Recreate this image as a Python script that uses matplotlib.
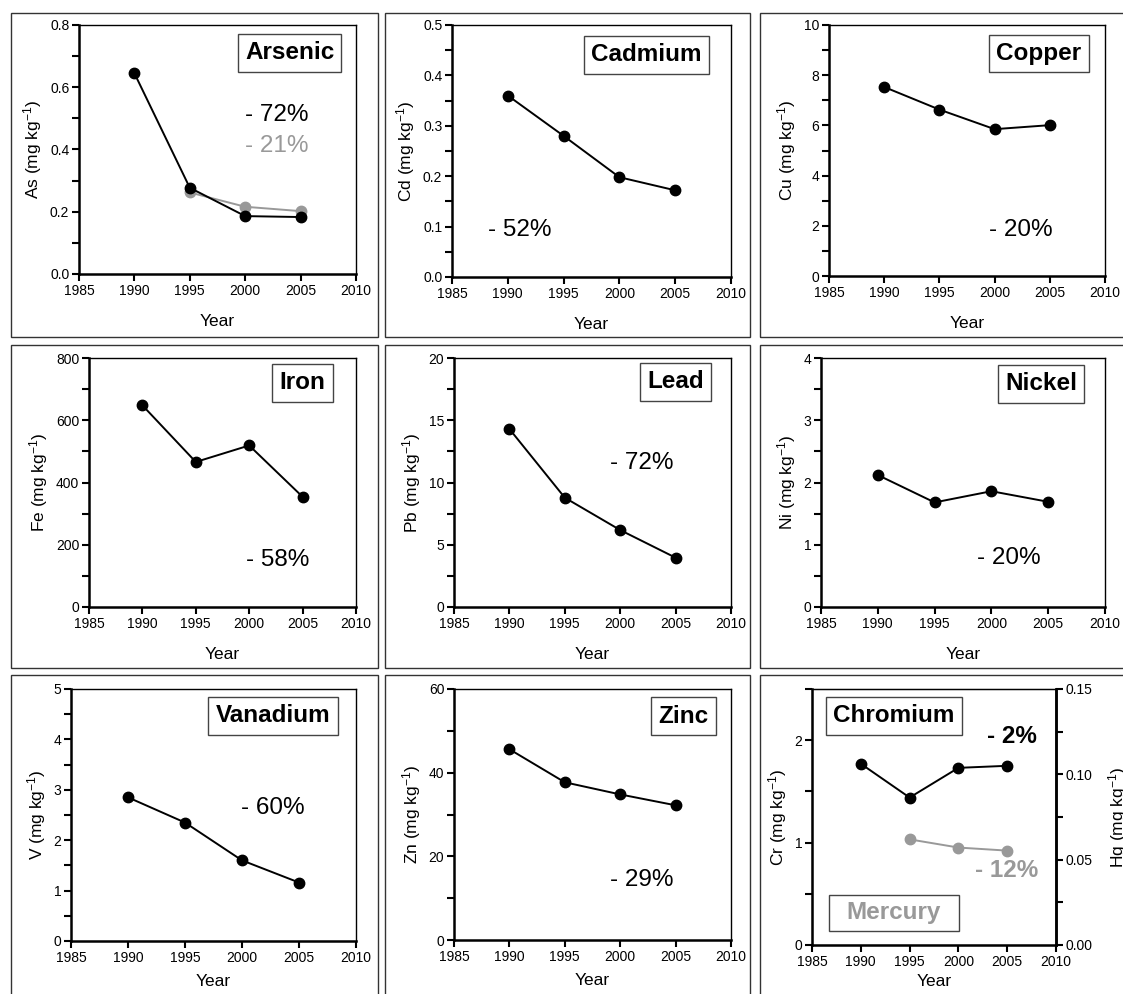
import matplotlib
matplotlib.use('Agg')
import matplotlib.pyplot as plt
from matplotlib.patches import Rectangle
from matplotlib.ticker import MultipleLocator, FormatStrFormatter

plt.rcParams['font.family'] = ['Liberation Sans', 'DejaVu Sans']
plt.rcParams['mathtext.fontset'] = 'custom'
plt.rcParams['mathtext.rm'] = 'Liberation Sans'
plt.rcParams['mathtext.it'] = 'Liberation Sans'

# data
years = [1990, 1995, 2000, 2005]
years_hg = [1995, 2000, 2005]
As = [0.645, 0.277, 0.186, 0.183]
As2 = [0.262, 0.216, 0.202]
Cd = [0.360, 0.280, 0.198, 0.172]
Cu = [7.53, 6.63, 5.85, 6.01]
Fe = [648, 466, 519, 354]
Pb = [14.3, 8.78, 6.18, 3.96]
Ni = [2.12, 1.68, 1.86, 1.69]
V = [2.85, 2.35, 1.60, 1.16]
Zn = [45.6, 37.7, 34.8, 32.2]
Cr = [1.77, 1.44, 1.73, 1.75]
Hg = [0.0619, 0.0571, 0.0553]

W, H = 1123, 994
GREY = '#999999'
TICK_FS = 10
LAB_FS = 12.5

fig = plt.figure(figsize=(W/100, H/100), dpi=100)


def rect(x1, x2, y1, y2):
    return [x1/W, 1 - y2/H, (x2 - x1)/W, (y2 - y1)/H]


# outer panel frames
for (x1, x2) in [(11, 378), (385, 750), (760, 1130)]:
    for (y1, y2) in [(13, 337), (345, 668), (675, 1000)]:
        fig.patches.append(Rectangle((x1/W, 1 - y2/H), (x2-x1)/W, (y2-y1)/H,
                                     transform=fig.transFigure, fill=False,
                                     edgecolor='#333333', lw=1.0))


def setup(pos, ymax, major, minor, fmt, ylab, xpad=12):
    ax = fig.add_axes(rect(*pos))
    ax.set_xlim(1985, 2010)
    ax.set_ylim(0, ymax)
    ax.xaxis.set_major_locator(MultipleLocator(5))
    ax.yaxis.set_major_locator(MultipleLocator(major))
    ax.yaxis.set_minor_locator(MultipleLocator(minor))
    ax.yaxis.set_major_formatter(FormatStrFormatter(fmt))
    ax.tick_params(which='both', direction='out', length=5, width=1.5,
                   labelsize=TICK_FS, top=False, right=False, pad=2)
    for s in ['left', 'bottom']:
        ax.spines[s].set_linewidth(1.8)
    for s in ['top', 'right']:
        ax.spines[s].set_linewidth(1.0)
    ax.set_xlabel('Year', fontsize=LAB_FS, labelpad=xpad)
    ax.set_ylabel(ylab + r' (mg kg$^{-1}$)', fontsize=LAB_FS, labelpad=4)
    return ax


def label_box(ax, x, y, txt, color='black'):
    ax.text(x, y, txt, transform=ax.transAxes, ha='center', va='center',
            fontsize=17.5, fontweight='bold', color=color,
            bbox=dict(boxstyle='square,pad=0.3', fc='white', ec='#444444', lw=1.0))


def pct(ax, x, y, txt, color='black', bold=False):
    ax.text(x, y, txt, transform=ax.transAxes, ha='center', va='center',
            fontsize=17.5, color=color, fontweight='bold' if bold else 'normal')


def line(ax, xs, ys, color='black'):
    ax.plot(xs, ys, color=color, lw=1.4, marker='o', ms=7.5, clip_on=False)


# Arsenic
ax = setup((79, 356, 25, 274), 0.8, 0.2, 0.1, '%.1f', 'As')
line(ax, years_hg, As2, GREY)
line(ax, years, As)
label_box(ax, 0.76, 0.888, 'Arsenic')
pct(ax, 0.715, 0.64, '- 72%')
pct(ax, 0.715, 0.514, '- 21%', GREY)

# Cadmium
ax = setup((452, 731, 25, 277), 0.5, 0.1, 0.05, '%.1f', 'Cd')
line(ax, years, Cd)
label_box(ax, 0.697, 0.881, 'Cadmium')
pct(ax, 0.244, 0.187, '- 52%')

# Copper
ax = setup((829, 1105, 25, 276), 10, 2, 1, '%d', 'Cu')
line(ax, years, Cu)
label_box(ax, 0.761, 0.886, 'Copper')
pct(ax, 0.695, 0.183, '- 20%')

# Iron
ax = setup((89, 356, 358, 607), 800, 200, 100, '%d', 'Fe')
line(ax, years, Fe)
label_box(ax, 0.80, 0.90, 'Iron')
pct(ax, 0.708, 0.189, '- 58%')

# Lead
ax = setup((454, 731, 358, 607), 20, 5, 2.5, '%d', 'Pb')
line(ax, years, Pb)
label_box(ax, 0.80, 0.904, 'Lead')
pct(ax, 0.678, 0.58, '- 72%')

# Nickel
ax = setup((821, 1105, 358, 607), 4, 1, 0.5, '%d', 'Ni')
line(ax, years, Ni)
label_box(ax, 0.775, 0.896, 'Nickel')
pct(ax, 0.66, 0.197, '- 20%')

# Vanadium
ax = setup((71, 356, 689, 941), 5, 1, 0.5, '%d', 'V', xpad=7)
line(ax, years, V)
label_box(ax, 0.709, 0.893, 'Vanadium')
pct(ax, 0.709, 0.528, '- 60%')

# Zinc
ax = setup((454, 731, 689, 940), 60, 20, 10, '%d', 'Zn', xpad=7)
line(ax, years, Zn)
label_box(ax, 0.829, 0.892, 'Zinc')
pct(ax, 0.678, 0.239, '- 29%')

# Chromium + Mercury (secondary axis)
ax = setup((812, 1056, 689, 945), 2.5, 1, 0.5, '%d', 'Cr', xpad=4)
ax.spines['right'].set_linewidth(1.8)
ax2 = ax.twinx()
ax2.set_ylim(0, 0.15)
ax2.yaxis.set_major_locator(MultipleLocator(0.05))
ax2.yaxis.set_minor_locator(MultipleLocator(0.025))
ax2.yaxis.set_major_formatter(FormatStrFormatter('%.2f'))
ax2.tick_params(which='both', direction='out', length=5, width=1.5,
                labelsize=TICK_FS, pad=2)
ax2.spines['right'].set_linewidth(1.8)
ax2.set_ylabel(r'Hg (mg kg$^{-1}$)', fontsize=LAB_FS)
ax2.yaxis.set_label_coords(1.205, 0.5)
line(ax2, years_hg, Hg, GREY)
line(ax, years, Cr)
label_box(ax, 0.336, 0.895, 'Chromium')
# mercury box is as wide as the chromium one
ax.add_patch(Rectangle((0.07, 0.055), 0.532, 0.14, transform=ax.transAxes,
                       fc='white', ec='#444444', lw=1.0, zorder=3))
ax.text(0.336, 0.125, 'Mercury', transform=ax.transAxes, ha='center', va='center',
        fontsize=17.5, fontweight='bold', color=GREY, zorder=4)
pct(ax, 0.818, 0.816, '- 2%', bold=True)
pct(ax, 0.798, 0.29, '- 12%', GREY, bold=True)

fig.savefig('out.png', dpi=100)
